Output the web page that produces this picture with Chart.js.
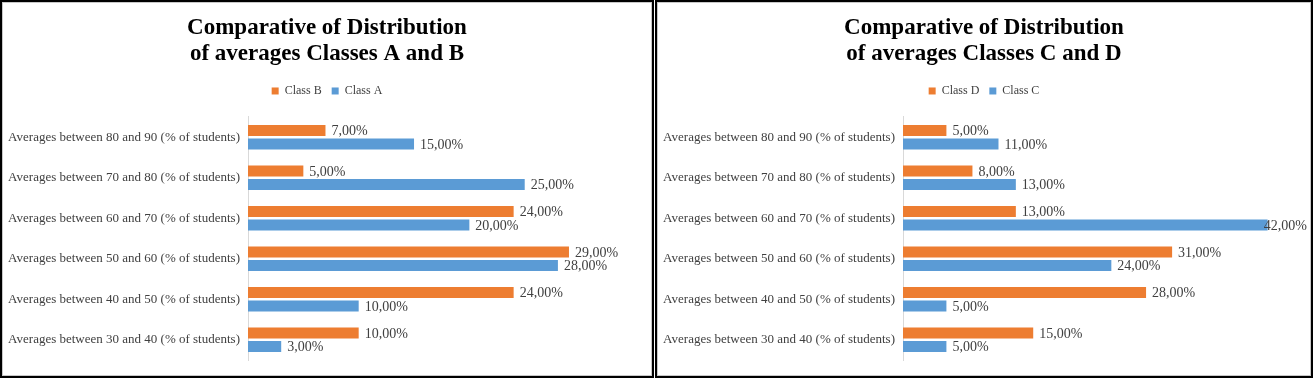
<!DOCTYPE html>
<html>
<head>
<meta charset="utf-8">
<script src="https://cdn.jsdelivr.net/npm/chart.js@4.4.1/dist/chart.umd.min.js"></script>
<style>
  html, body { margin: 0; padding: 0; background: #fff; }
  .panel { position: absolute; top: 0; height: 374px; border: 2px solid #000; box-shadow: inset 0 0 0 1px #c8c8c8; }
  #panelLeft { left: 0; width: 650px; }
  #panelRight { left: 655px; width: 654px; }
  canvas { display: block; }
</style>
</head>
<body>
<div class="panel" id="panelLeft"><canvas id="chartAB"></canvas></div>
<div class="panel" id="panelRight"><canvas id="chartCD"></canvas></div>
<script>
// categories, top to bottom
const categories = [
    "Averages between 80 and 90 (% of students)",
    "Averages between 70 and 80 (% of students)",
    "Averages between 60 and 70 (% of students)",
    "Averages between 50 and 60 (% of students)",
    "Averages between 40 and 50 (% of students)",
    "Averages between 30 and 40 (% of students)"
];

// % of students per class
const classA = [15, 25, 20, 28, 10, 3];
const classB = [7, 5, 24, 29, 24, 10];
const classC = [11, 13, 42, 24, 5, 5];
const classD = [5, 8, 13, 31, 28, 15];

/* excel palette */
const colors = ["#ED7D31", "#5B9BD5"];
const serif = '"Liberation Serif", "Times New Roman", serif';

Chart.defaults.font.family = serif;
Chart.defaults.color = '#404040';

// value labels at the end of each bar, e.g. "15,00%"
const valueLabels = {
    id: 'valueLabels',
    afterDatasetsDraw(chart) {
        const ctx = chart.ctx;
        ctx.save();
        ctx.font = '14px ' + serif;
        ctx.fillStyle = '#404040';
        ctx.textBaseline = 'middle';
        chart.data.datasets.forEach((ds, i) => {
            chart.getDatasetMeta(i).data.forEach((bar, j) => {
                const text = ds.data[j].toFixed(2).replace('.', ',') + '%';
                const w = ctx.measureText(text).width;
                let x = bar.x + 6;
                if (x + w > chart.width - 4) x = chart.width - 4 - w;
                ctx.fillText(text, x, bar.y + 1);
            });
        });
        ctx.restore();
    }
};

// a bit more room under the legend
const legendGap = {
    id: 'legendGap',
    afterInit(chart) {
        const fit = chart.legend.fit;
        chart.legend.fit = function () {
            fit.call(this);
            this.height += 10;
        };
    }
};

function makeChart(id, title, names, series, max) {
    return new Chart(document.getElementById(id), {
        type: 'bar',
        data: {
            labels: categories,
            datasets: [
                {
                    label: names[0],
                    data: series[0],
                    backgroundColor: colors[0],
                    categoryPercentage: 0.664,
                    barPercentage: 0.815
                },
                {
                    label: names[1],
                    data: series[1],
                    backgroundColor: colors[1],
                    categoryPercentage: 0.664,
                    barPercentage: 0.815
                }
            ]
        },
        options: {
            indexAxis: 'y',
            responsive: true,
            maintainAspectRatio: false,
            animation: false,
            layout: {
                padding: { left: 0, right: 0, top: 0, bottom: 16 }
            },
            plugins: {
                title: {
                    display: true,
                    text: title,
                    color: '#000',
                    font: { size: 23, weight: 'bold', lineHeight: 1.13 },
                    padding: { top: 13, bottom: 8 }
                },
                legend: {
                    position: 'top',
                    labels: {
                        boxWidth: 7,
                        boxHeight: 7,
                        padding: 10,
                        font: { size: 12 }
                    }
                },
                tooltip: { enabled: false }
            },
            scales: {
                x: {
                    min: 0,
                    max: max,
                    display: false
                },
                y: {
                    grid: { display: false, drawTicks: false },
                    border: { color: '#d9d9d9', width: 1 },
                    ticks: { padding: 8, font: { size: 13 } },
                    afterFit(scale) {
                        scale.width = 246;
                    }
                }
            }
        },
        plugins: [valueLabels, legendGap]
    });
}

makeChart('chartAB',
    ['Comparative of Distribution', 'of averages Classes A and B'],
    ['Class B', 'Class A'], [classB, classA], 36.5);

makeChart('chartCD',
    ['Comparative of Distribution', 'of averages Classes C and D'],
    ['Class D', 'Class C'], [classD, classC], 47);
</script>
</body>
</html>
